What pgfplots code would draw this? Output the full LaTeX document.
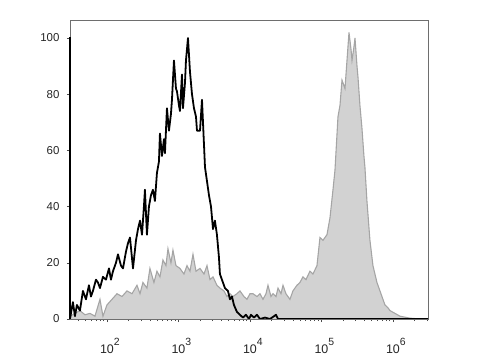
\documentclass[border=0pt]{standalone}
\usepackage{fontspec}
\setmainfont{Liberation Sans}
\usepackage{pgfplots}
\pgfplotsset{compat=1.18}
\definecolor{fillgray}{RGB}{210,210,210}
\definecolor{edgegray}{RGB}{165,165,165}
\definecolor{framegray}{RGB}{110,110,110}
\begin{document}
\begin{tikzpicture}
\begin{axis}[
  name=ax,
  scale only axis,
  width=358bp, height=299bp,
  xmin=1.483, xmax=6.49,
  ymin=0, ymax=106.4,
  axis line style={framegray, line width=0.9pt},
  xtick={2,3,4,5,6},
  minor xtick={1.602,1.699,1.778,1.845,1.903,1.954,
    2.301,2.477,2.602,2.699,2.778,2.845,2.903,2.954,
    3.301,3.477,3.602,3.699,3.778,3.845,3.903,3.954,
    4.301,4.477,4.602,4.699,4.778,4.845,4.903,4.954,
    5.301,5.477,5.602,5.699,5.778,5.845,5.903,5.954,
    6.301,6.477},
  ytick={0,20,40,60,80,100},
  tick align=outside,
  major tick length=3bp, minor tick length=2bp,
  tick style={black!70, line width=0.5pt},
  xtick pos=bottom, ytick pos=left,
  /pgf/number format/assume math mode=true,
  tick label style={text=black!85},
  yticklabel style={font=\fontsize{11.5}{13}\selectfont, xshift=-4bp},
  xticklabel style={font=\fontsize{12.5}{14}\selectfont, yshift=-13bp},
  xticklabel={\pgfmathparse{int(\tick)}10\rlap{\raisebox{8bp}{\fontsize{10.5}{11}\selectfont\pgfmathresult}}},
  clip=true,
]
% gray filled histogram
\addplot[fill=fillgray, draw=edgegray, line width=1.1pt] coordinates {
(1.483,0)(1.483,1)(1.552,2)(1.622,3)(1.692,1.5)(1.762,2)(1.832,1)(1.902,7)(1.944,1)
(2.000,5)(2.070,7)(2.140,9)(2.210,8)(2.280,10)(2.350,9)(2.420,12)(2.462,9)(2.503,13)
(2.559,11)(2.601,18)(2.657,13)(2.699,17)(2.741,15)(2.783,21)(2.825,19)(2.853,25)
(2.895,20)(2.923,24.5)(2.965,19)(3.021,18)(3.077,16)(3.119,19)(3.161,17)(3.203,23)
(3.245,17)(3.301,18)(3.357,16)(3.399,19)(3.441,14)(3.483,15)(3.538,12)(3.580,11)
(3.636,10)(3.678,8)(3.720,9)(3.762,8)(3.818,9)(3.860,10)(3.916,8)(3.958,7)(4.000,9)
(4.042,9)(4.098,8)(4.140,9)(4.182,7)(4.224,9)(4.252,12)(4.294,8)(4.322,9)(4.364,8)
(4.392,11)(4.434,9)(4.462,12)(4.503,9)(4.559,7)(4.601,10)(4.657,12)(4.699,13)
(4.741,15)(4.783,14)(4.839,17)(4.881,16)(4.937,19)(4.979,29)(5.021,28)(5.077,30)
(5.119,36)(5.161,46)(5.189,53)(5.231,72)(5.259,76)(5.287,85)(5.329,82)(5.357,92)
(5.385,102)(5.413,96)(5.427,92)(5.455,97)(5.469,100)(5.497,90)(5.511,86)(5.538,76)
(5.566,68)(5.594,58)(5.608,54)(5.636,42)(5.678,28)(5.720,19)(5.776,13)(5.818,10)
(5.860,7)(5.888,5)(5.930,4)(5.958,3)(6.028,2)(6.098,1)(6.238,0.3)(6.378,0)(6.490,0)
};
% black line histogram
\addplot[black, line width=1.8pt, line join=round] coordinates {
(1.483,0)(1.510,4)(1.524,6)(1.552,1)(1.580,5)(1.622,3)(1.664,10)(1.706,7)(1.748,12)
(1.776,8)(1.804,10)(1.846,14)(1.874,13)(1.902,11)(1.944,15)(1.986,14)(2.028,18)
(2.056,14)(2.084,17)(2.126,20)(2.154,23)(2.196,19)(2.224,18)(2.266,24)(2.294,27)
(2.322,29)(2.364,18)(2.406,28)(2.434,32)(2.462,35)(2.490,30)(2.517,40)(2.531,46)
(2.559,30)(2.587,40)(2.615,44)(2.643,46)(2.671,42)(2.699,52)(2.727,56)(2.741,66)
(2.769,58)(2.797,64)(2.811,59)(2.839,75)(2.867,67)(2.895,73)(2.909,78)(2.937,92)
(2.965,82)(2.979,81)(3.007,76)(3.021,74)(3.049,87)(3.063,75)(3.091,84)(3.105,92)
(3.133,100)(3.161,88)(3.189,80)(3.217,75)(3.245,72)(3.259,67)(3.301,67)(3.329,78)
(3.357,62)(3.371,54)(3.399,49)(3.427,44)(3.455,40)(3.483,32)(3.510,35)(3.538,30)
(3.566,22)(3.580,16)(3.608,14)(3.650,11)(3.692,10)(3.720,7)(3.748,8)(3.776,5)
(3.818,2.5)(3.860,1.5)(3.902,0.5)(3.944,1.5)(3.986,0)(4.014,1.5)(4.056,0.5)
(4.098,1.5)(4.140,0)(4.210,0.5)(4.280,0)(4.364,1.5)(4.392,0)(4.559,0)(6.490,0)
};
\end{axis}
\draw[black, line width=1.6pt] (ax.south west) -- ([yshift=282bp]ax.south west);
\pgfresetboundingbox
\path ([xshift=-70bp,yshift=-41bp]ax.south west) rectangle ([xshift=52bp,yshift=20bp]ax.north east);
\end{tikzpicture}
\end{document}
